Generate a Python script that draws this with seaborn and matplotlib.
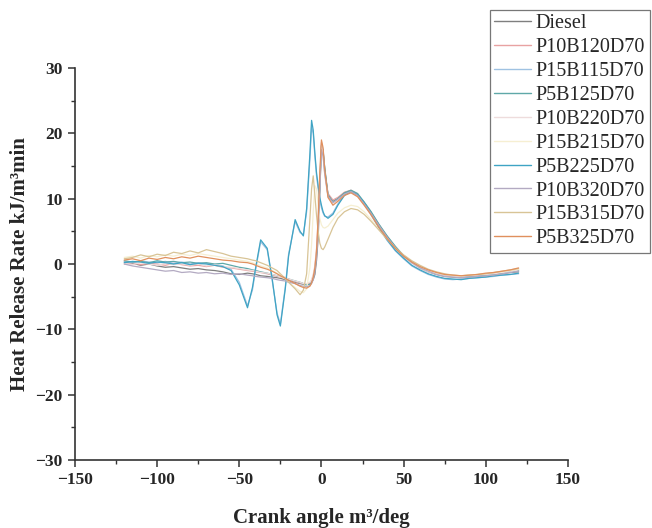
import numpy as np
import pandas as pd
import matplotlib
matplotlib.use("Agg")
import matplotlib.pyplot as plt
from matplotlib.ticker import MultipleLocator
from matplotlib.lines import Line2D
import seaborn as sns

crank_angle = [-120, -115, -110, -105, -100, -95, -90, -85, -80, -75, -70, -65, -60, -55, -50, -45,
               -42, -40, -37, -33, -30, -27, -25, -22, -20, -16, -13, -11, -9, -7, -6, -5, -4, -3, -2, -1,
               0, 1, 2, 4, 7, 10, 14, 18, 22, 26, 30,
               35, 40, 45, 50, 55, 60, 65, 70, 75, 80, 85, 90, 95, 100, 105, 110, 115, 120]

diesel = [0.3, 0.1, -0.2, 0.0, -0.3, -0.5, -0.4, -0.6, -0.8, -0.7, -0.9, -1.0, -1.2, -1.5, -1.6, -1.4,
          -1.5, -1.6, -1.8, -1.9, -2.0, -2.1, -2.2, -2.4, -2.5, -2.8, -3.0, -3.1, -3.2, -3.0, -2.8, -2.4, -1.6, 0.5, 4.0, 11.0,
          18.0, 17.5, 14.5, 10.5, 9.6, 10.0, 10.9, 11.2, 10.6, 9.4, 8.0,
          6.0, 4.2, 2.6, 1.2, 0.2, -0.6, -1.2, -1.6, -1.9, -2.0, -2.1, -2.0, -1.9, -1.8, -1.6, -1.5, -1.3, -1.2]
p10b120d70 = [0.0, 0.2, -0.1, 0.1, 0.0, -0.2, 0.1, -0.1, -0.3, -0.2, -0.4, -0.2, -0.5, -0.6, -0.8, -1.0,
              -1.1, -1.2, -1.3, -1.5, -1.7, -1.9, -2.0, -2.2, -2.4, -2.7, -2.9, -3.0, -3.1, -2.9, -2.5, -1.8, -0.5, 2.0, 6.0, 12.5,
              18.6, 17.0, 14.0, 10.8, 9.8, 10.2, 11.0, 11.3, 10.7, 9.3, 7.8,
              5.8, 4.0, 2.5, 1.2, 0.2, -0.5, -1.0, -1.5, -1.7, -1.9, -1.8, -1.9, -1.7, -1.6, -1.4, -1.3, -1.1, -0.8]
p15b115d70 = [0.4, 0.2, 0.5, 0.3, 0.2, 0.4, 0.1, 0.3, 0.0, 0.2, 0.1, -0.1, -0.3, -0.8, -2.8, -6.4,
              -4.0, -0.8, 3.4, 2.2, -2.5, -7.5, -9.2, -3.5, 1.5, 6.5, 4.8, 4.5, 8.0, 16.0, 21.0, 20.0, 16.5, 13.5, 11.5, 9.8,
              8.6, 7.8, 7.3, 7.2, 7.8, 9.2, 10.6, 11.0, 10.5, 9.2, 7.6,
              5.5, 3.6, 2.0, 0.8, -0.3, -1.0, -1.6, -2.0, -2.3, -2.4, -2.3, -2.2, -2.1, -2.0, -1.9, -1.7, -1.6, -1.5]
p5b125d70 = [0.5, 0.3, 0.4, 0.2, 0.5, 0.3, 0.4, 0.2, 0.3, 0.1, 0.2, 0.0, 0.1, -0.2, -0.5, -0.7,
             -0.9, -1.0, -1.2, -1.4, -1.6, -1.8, -1.9, -2.1, -2.3, -2.6, -2.8, -3.0, -3.2, -3.1, -2.8, -2.2, -1.0, 1.5, 5.5, 12.0,
             18.2, 17.2, 14.8, 10.6, 9.5, 10.0, 10.9, 11.3, 10.8, 9.5, 8.1,
             6.1, 4.3, 2.7, 1.3, 0.3, -0.5, -1.1, -1.5, -1.8, -1.9, -2.0, -1.9, -1.8, -1.7, -1.6, -1.4, -1.2, -1.0]
p10b220d70 = [0.1, -0.1, 0.2, 0.0, -0.2, 0.1, -0.1, 0.0, -0.2, 0.0, -0.3, -0.1, -0.4, -0.5, -0.7, -0.9,
              -1.0, -1.1, -1.3, -1.4, -1.6, -1.8, -2.0, -2.1, -2.3, -2.6, -2.8, -3.0, -3.0, -2.8, -2.4, -1.6, -0.2, 2.5, 7.0, 13.0,
              18.4, 16.8, 13.6, 10.2, 9.3, 9.8, 10.6, 11.0, 10.4, 9.1, 7.7,
              5.7, 3.9, 2.4, 1.1, 0.1, -0.6, -1.2, -1.5, -1.8, -1.9, -1.9, -1.8, -1.7, -1.6, -1.5, -1.3, -1.2, -0.9]
p15b215d70 = [1.0, 1.2, 0.9, 1.3, 1.1, 1.4, 1.2, 1.5, 1.3, 1.6, 1.4, 1.2, 1.0, 0.8, 0.6, 0.4,
              0.2, 0.0, -0.3, -0.6, -1.0, -1.4, -1.8, -2.3, -2.8, -3.6, -4.2, -4.4, -3.8, -0.5, 3.0, 8.0, 12.0, 11.5, 9.0, 7.0,
              6.0, 5.6, 5.5, 5.8, 6.8, 7.8, 8.6, 9.0, 8.8, 8.0, 6.9,
              5.3, 3.8, 2.4, 1.2, 0.3, -0.4, -1.0, -1.4, -1.6, -1.8, -1.8, -1.7, -1.6, -1.5, -1.3, -1.2, -1.0, -0.8]
p5b225d70 = [0.2, 0.4, 0.3, 0.1, 0.3, 0.2, 0.0, 0.2, -0.1, 0.1, 0.0, -0.2, -0.4, -1.0, -3.2, -6.7,
             -3.6, -0.5, 3.7, 2.4, -2.2, -7.8, -9.5, -3.8, 1.2, 6.8, 5.0, 4.3, 8.5, 17.0, 22.0, 20.5, 17.0, 14.0, 12.0, 10.2,
             9.0, 8.0, 7.4, 7.0, 7.6, 9.0, 10.5, 11.1, 10.6, 9.4, 7.8,
             5.6, 3.7, 2.1, 0.9, -0.2, -0.9, -1.5, -1.9, -2.2, -2.3, -2.4, -2.2, -2.1, -2.0, -1.8, -1.7, -1.6, -1.4]
p10b320d70 = [0.0, -0.3, -0.5, -0.7, -0.9, -1.1, -1.0, -1.3, -1.2, -1.4, -1.3, -1.5, -1.4, -1.6, -1.5, -1.7,
              -1.8, -1.9, -2.0, -2.1, -2.2, -2.4, -2.5, -2.6, -2.8, -3.0, -3.3, -3.4, -3.5, -3.3, -3.0, -2.4, -1.2, 1.0, 5.0, 11.5,
              17.5, 16.5, 13.8, 10.4, 9.4, 9.9, 10.7, 11.1, 10.5, 9.2, 7.8,
              5.9, 4.1, 2.5, 1.2, 0.2, -0.6, -1.1, -1.6, -1.9, -2.0, -2.1, -2.0, -1.9, -1.8, -1.7, -1.5, -1.3, -1.1]
p15b315d70 = [0.8, 1.0, 1.4, 1.1, 1.5, 1.3, 1.8, 1.6, 2.0, 1.7, 2.2, 1.9, 1.6, 1.2, 1.0, 0.8,
              0.6, 0.5, 0.2, -0.2, -0.6, -1.0, -1.5, -2.2, -2.8, -3.8, -4.7, -4.0, -1.5, 7.0, 11.5, 13.5, 10.5, 7.5, 5.0, 3.2,
              2.4, 2.2, 2.6, 3.8, 5.6, 7.0, 8.0, 8.5, 8.3, 7.6, 6.6,
              5.2, 3.8, 2.5, 1.4, 0.5, -0.2, -0.8, -1.2, -1.5, -1.7, -1.8, -1.7, -1.6, -1.5, -1.3, -1.1, -0.9, -0.7]
p5b325d70 = [0.6, 0.8, 0.5, 0.9, 0.7, 1.0, 0.8, 1.1, 0.9, 1.2, 1.0, 0.8, 0.6, 0.5, 0.3, 0.2,
             0.0, -0.2, -0.5, -0.8, -1.1, -1.5, -1.8, -2.2, -2.5, -3.0, -3.4, -3.6, -3.7, -3.4, -2.9, -2.0, -0.6, 2.0, 7.0, 14.0,
             19.0, 17.8, 14.5, 10.2, 9.0, 9.6, 10.5, 10.9, 10.3, 9.0, 7.6,
             5.6, 3.9, 2.4, 1.2, 0.3, -0.4, -0.9, -1.3, -1.6, -1.7, -1.8, -1.7, -1.6, -1.4, -1.3, -1.1, -0.9, -0.6]

series_names = ["Diesel", "P10B120D70", "P15B115D70", "P5B125D70", "P10B220D70",
                "P15B215D70", "P5B225D70", "P10B320D70", "P15B315D70", "P5B325D70"]
series_values = [diesel, p10b120d70, p15b115d70, p5b125d70, p10b220d70,
                 p15b215d70, p5b225d70, p10b320d70, p15b315d70, p5b325d70]
colors = ["#7f7f7f", "#e8a2a2", "#9fc2e2", "#5fa8a8", "#eedcdc",
          "#f6efd2", "#3fa4c4", "#b3aac2", "#d8c496", "#e0905e"]
x_ticks = [-150, -100, -50, 0, 50, 100, 150]
y_ticks = [-30, -20, -10, 0, 10, 20, 30]

rows = []
for name, vals in zip(series_names, series_values):
    for xv, yv in zip(crank_angle, vals):
        rows.append({"Crank": xv, "HRR": yv, "Fuel": name})
df = pd.DataFrame(rows)

sns.set_style("ticks")
plt.rcParams["font.family"] = ["Liberation Serif", "DejaVu Serif"]

fig = plt.figure(figsize=(6.52, 5.28), dpi=100)
ax = fig.add_axes([0.115, 0.129, 0.756, 0.742])

sns.lineplot(data=df, x="Crank", y="HRR", hue="Fuel", hue_order=series_names,
             palette=dict(zip(series_names, colors)), linewidth=0.9, ax=ax, legend=False,
             estimator=None, sort=False)

ax.set_xlim(-150, 150)
ax.set_ylim(-30, 30)
ax.set_xticks(x_ticks)
ax.set_xticklabels([f"{t}".replace("-", "\u2212") for t in x_ticks], fontweight="bold", fontsize=12.5)
ax.set_yticks(y_ticks)
ax.set_yticklabels([f"{t}".replace("-", "\u2212") for t in y_ticks], fontweight="bold", fontsize=12.5)
ax.xaxis.set_minor_locator(MultipleLocator(25))
ax.yaxis.set_minor_locator(MultipleLocator(5))
ax.tick_params(axis="both", which="major", direction="out", length=5, width=1.1, color="#333333", pad=4)
ax.tick_params(axis="both", which="minor", direction="out", length=3, width=1.0, color="#333333")
for s in ["top", "right"]:
    ax.spines[s].set_visible(False)
for s in ["left", "bottom"]:
    ax.spines[s].set_linewidth(1.2)
    ax.spines[s].set_color("#333333")

ax.set_xlabel("Crank angle m\u00b3/deg", fontsize=15, fontweight="bold", labelpad=14)
ax.set_ylabel("Heat Release Rate kJ/m\u00b3min", fontsize=15, fontweight="bold", labelpad=4)

handles = [Line2D([0], [0], color=c, lw=1.0) for c in colors]
leg = fig.legend(handles, series_names, loc="upper left", bbox_to_anchor=(0.751, 0.982),
                 frameon=True, fancybox=False, fontsize=14.5, handlelength=1.85,
                 labelspacing=0.24, borderpad=0.22, handletextpad=0.22, borderaxespad=0)
leg.get_frame().set_edgecolor("#555555")
leg.get_frame().set_linewidth(0.9)

fig.savefig("out.png", dpi=100)
